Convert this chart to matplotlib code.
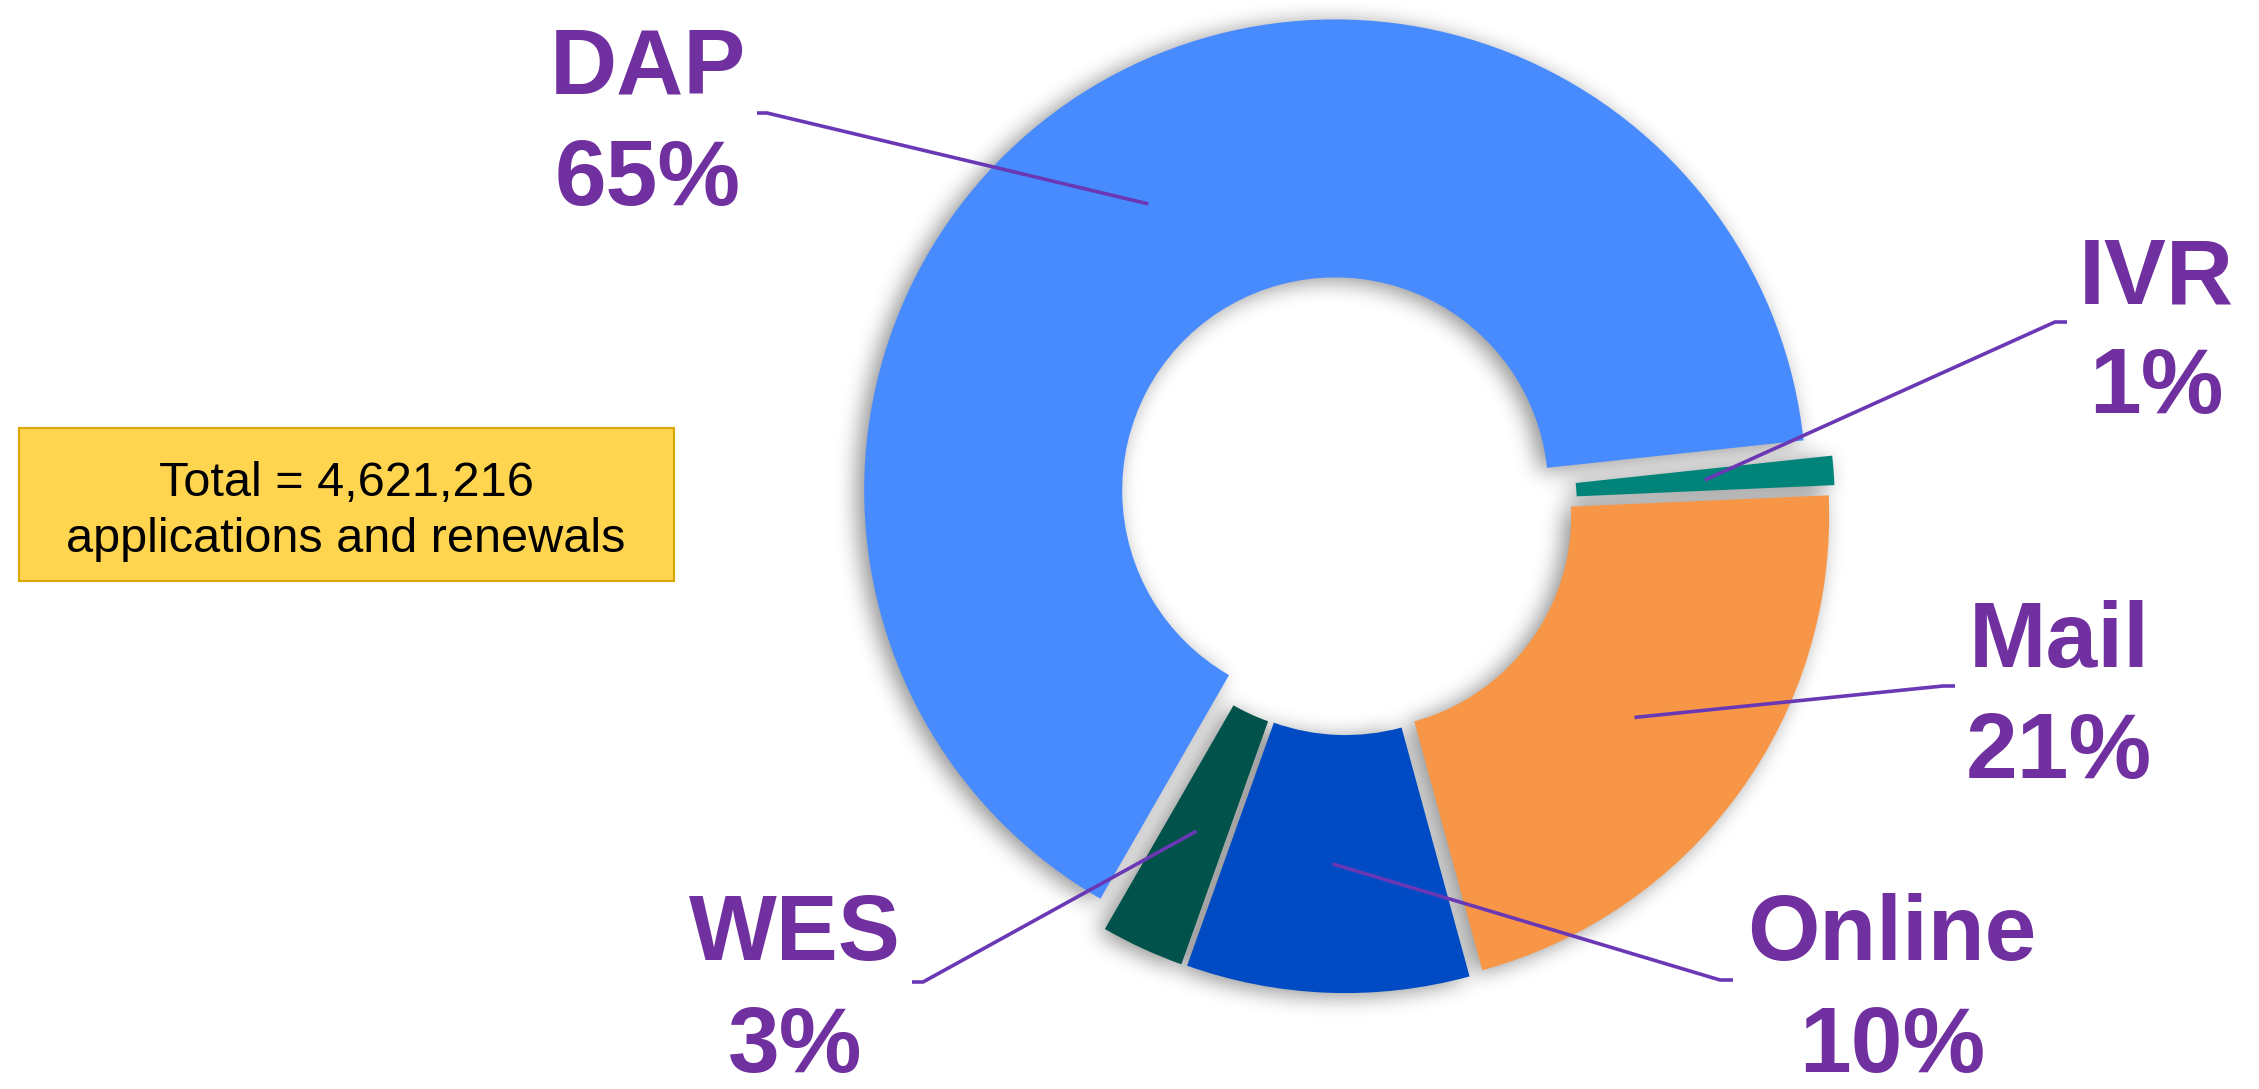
import numpy as np
import matplotlib
matplotlib.use("Agg")
import matplotlib.pyplot as plt
from matplotlib.patches import Rectangle

# ---------------- data ----------------
categories = ["DAP", "WES", "Online", "Mail", "IVR"]
shares = [65.0, 2.85, 9.7, 21.45, 1.0]
pct_labels = ["65%", "3%", "10%", "21%", "1%"]
colors = ["#478BFF", "#00524A", "#004BC4", "#F79646", "#00847A"]
explode_frac = [0.042, 0.032, 0.032, 0.032, 0.038]
total_lines = ["Total = 4,621,216", "applications and renewals"]

# ---------------- layout (pixel units, image y measured from top) ----------------
W, H, DPI = 2259, 1089, 100
CENTER = (1346, H - 507)
RADIUS = 471
RING = 258
START = 6.1
explode = [f * RADIUS for f in explode_frac]

label_pos = {
    "DAP": (648, 93, 205),
    "WES": (795, 960, 1072),
    "Online": (1892, 960, 1072),
    "Mail": (2059, 667, 778),
    "IVR": (2156, 303, 413),
}
elbows = {
    "DAP": ((767, 113), (757, 113)),
    "WES": ((923, 982), (912, 982)),
    "Online": ((1720, 980), (1733, 980)),
    "Mail": ((1943, 686), (1955, 686)),
    "IVR": ((2055, 322), (2067, 322)),
}
PURPLE = "#7030A0"
LINE = "#6A38B5"


def setup(fig):
    return fig.add_axes([0, 0, 1, 1])


def draw_pie(ax, cols):
    wedges, _ = ax.pie(shares, colors=cols, explode=explode, startangle=START,
                       counterclock=True, radius=RADIUS, center=CENTER,
                       wedgeprops=dict(width=RING, linewidth=0), frame=True)
    ax.set_xlim(0, W)
    ax.set_ylim(0, H)
    ax.set_aspect("equal", adjustable="box")
    ax.axis("off")
    return wedges


def blur1d(a, r, axis):
    a = np.moveaxis(a, axis, -1)
    p = np.pad(a, [(0, 0)] * (a.ndim - 1) + [(r + 1, r)], mode="constant")
    c = np.cumsum(p, axis=-1)
    out = (c[..., 2 * r + 1:] - c[..., :-(2 * r + 1)]) / (2 * r + 1)
    return np.moveaxis(out, -1, axis)


# ---------------- shadow (rendered offscreen, blurred) ----------------
fig_s = plt.figure(figsize=(W / DPI, H / DPI), dpi=DPI)
fig_s.patch.set_alpha(0)
ax_s = setup(fig_s)
draw_pie(ax_s, ["black"] * len(shares))
fig_s.canvas.draw()
mask = np.asarray(fig_s.canvas.buffer_rgba())[..., 3].astype(float) / 255.0
plt.close(fig_s)
for _ in range(3):
    mask = blur1d(mask, 10, 0)
    mask = blur1d(mask, 10, 1)
mask = np.roll(mask, 3, axis=0)
mask = np.roll(mask, -7, axis=1)
shadow = np.zeros(mask.shape + (4,))
shadow[..., 3] = 0.44 * mask

# ---------------- main figure ----------------
fig = plt.figure(figsize=(W / DPI, H / DPI), dpi=DPI)
fig.patch.set_facecolor("white")
fig.figimage(shadow, xo=0, yo=0, origin="upper", zorder=-1)
ax = setup(fig)
wedges = draw_pie(ax, colors)

font = "Liberation Sans"
for name, pct, w in zip(categories, pct_labels, wedges):
    cx, cy = w.center
    rm = w.r - w.width / 2
    th = np.deg2rad((w.theta1 + w.theta2) / 2)
    px, py = cx + rm * np.cos(th), cy + rm * np.sin(th)
    (ex, ey), (tx, ty) = elbows[name]
    ax.plot([px, ex, tx], [py, H - ey, H - ty], color=LINE, lw=2.6,
            solid_capstyle="butt", solid_joinstyle="miter", zorder=5)
    x, b1, b2 = label_pos[name]
    for txt, b in ((name, b1), (pct, b2)):
        ax.text(x, H - b, txt, ha="center", va="baseline", fontsize=67,
                fontweight="bold", color=PURPLE, family=font, zorder=6)

# total box
ax.add_patch(Rectangle((19, H - 581), 655, 153, facecolor="#FFD44F",
                       edgecolor="#DCA800", linewidth=1.5, zorder=4))
ax.text(346, H - 496, total_lines[0], ha="center", va="baseline",
        fontsize=35, color="black", family=font, zorder=6)
ax.text(346, H - 552, total_lines[1], ha="center", va="baseline",
        fontsize=35, color="black", family=font, zorder=6)

fig.savefig("out.png", dpi=DPI)
